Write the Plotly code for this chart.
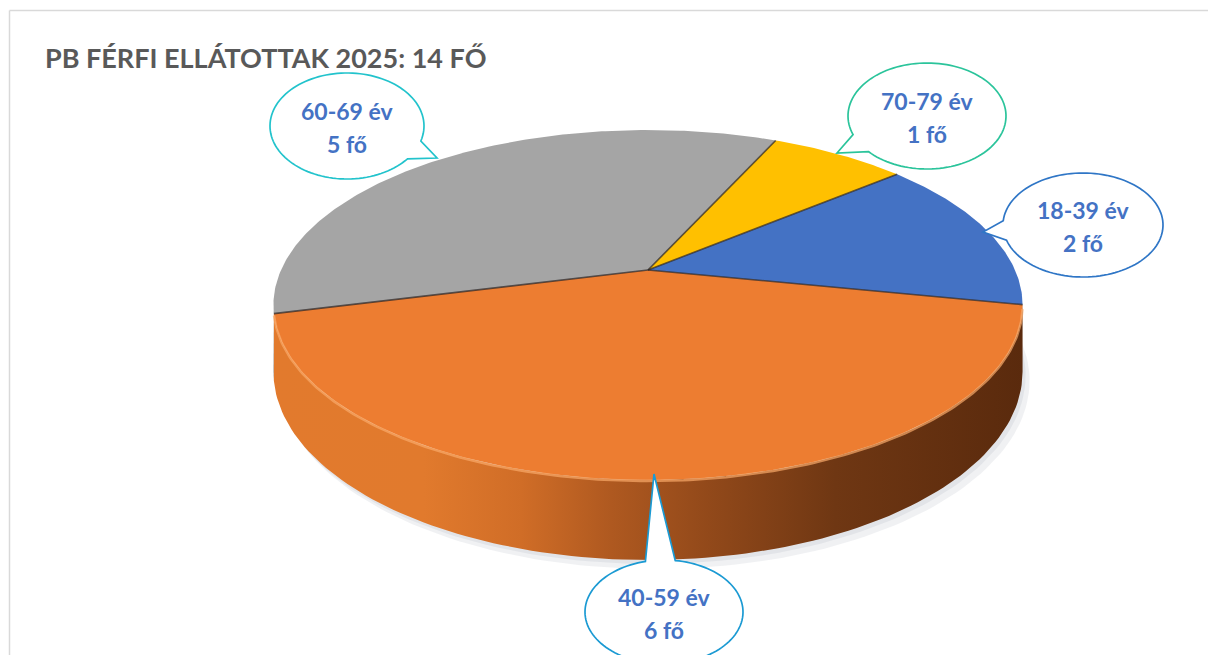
import numpy as np
import plotly.graph_objects as go

# ---------------- data ----------------
categories = ["18-39 év", "40-59 év", "60-69 év", "70-79 év"]
values = [2, 6, 5, 1]
unit = "fő"
title_text = "PB FÉRFI ELLÁTOTTAK 2025: 14 FŐ"
top_colors = ["#4472C4", "#ED7D31", "#A5A5A5", "#FFC000"]
side_colors = ["#2F5597", "#C55A11", "#7B7B7B", "#BF9000"]

# ---------------- geometry (3D-looking pie) ----------------
W, H = 1208, 655
CX, CY = 648, 270          # projected pie centre
A, B = 367, 168            # radii of the tilted disc
K = 0.2                    # perspective factor
D = 64                     # thickness
START = 40.0               # first slice starts here (deg, math convention), clockwise


def proj(phi_deg, h=0.0):
    t = np.radians(phi_deg)
    u, w = np.cos(t), np.sin(t)
    s = 1.0 / (1.0 + K * w)
    return CX + A * u * s, CY - B * w * s + D * h * s


total = float(sum(values))
bounds = START - 360.0 * np.cumsum([0] + values) / total
vis_lo = 180 + np.degrees(np.arcsin(K))
vis_hi = 360 - np.degrees(np.arcsin(K))

fig = go.Figure()

# soft shadow
ph = np.linspace(0, 360, 240)
sx, sy = proj(ph, 1.0)
fig.add_trace(go.Scatter(x=sx + 7, y=sy + 9, mode="lines", fill="toself",
                         fillcolor="rgba(110,120,140,0.10)", line=dict(width=0),
                         hoverinfo="skip", showlegend=False))
fig.add_trace(go.Scatter(x=sx + 3, y=sy + 4, mode="lines", fill="toself",
                         fillcolor="rgba(110,120,140,0.10)", line=dict(width=0),
                         hoverinfo="skip", showlegend=False))

# sides
for i in range(len(values)):
    a_hi, a_lo = bounds[i], bounds[i + 1]
    for shift in (-720, -360, 0, 360, 720):
        lo = max(a_lo + shift, vis_lo)
        hi = min(a_hi + shift, vis_hi)
        if lo < hi:
            pp = np.linspace(lo, hi, 120)
            tx, ty = proj(pp, 0.0)
            bx, by = proj(pp[::-1], 1.0)
            xs = np.concatenate([tx, bx])
            ys = np.concatenate([ty, by])
            kw = dict(fillcolor=side_colors[i])
            if i == 1:
                kw = dict(fillgradient=dict(type="horizontal", colorscale=[
                    [0.0, "#E27A2D"], [0.2, "#E17A2D"], [0.33, "#D06D27"],
                    [0.45, "#AF5920"], [0.58, "#92491A"], [0.75, "#6F3713"],
                    [1.0, "#5A2A0D"]]))
            fig.add_trace(go.Scatter(x=xs, y=ys, mode="lines", fill="toself",
                                     line=dict(width=0), hoverinfo="skip",
                                     showlegend=False, **kw))

# top faces
for i in range(len(values)):
    n = max(int(abs(bounds[i] - bounds[i + 1]) * 1.5), 8)
    pp = np.linspace(bounds[i], bounds[i + 1], n)
    ax, ay = proj(pp, 0.0)
    xs = np.concatenate([[CX], ax, [CX]])
    ys = np.concatenate([[CY], ay, [CY]])
    fig.add_trace(go.Scatter(x=xs, y=ys, mode="lines", fill="toself",
                             fillcolor=top_colors[i], line=dict(width=0),
                             name=categories[i], hoverinfo="name",
                             showlegend=False))

# rim highlight along the front edge
pp = np.linspace(vis_lo + 3, vis_hi - 1, 200)
rx_, ry_ = proj(pp, 0.0)
fig.add_trace(go.Scatter(x=rx_, y=ry_ + 1, mode="lines",
                         line=dict(color="rgba(250,170,105,0.7)", width=2.5),
                         hoverinfo="skip", showlegend=False))

# slice borders
for b in bounds[:-1]:
    ex, ey = proj(b, 0.0)
    fig.add_trace(go.Scatter(x=[CX, ex], y=[CY, ey], mode="lines",
                             line=dict(color="rgba(45,40,40,0.75)", width=1.6),
                             hoverinfo="skip", showlegend=False))

# ---------------- callouts ----------------
callouts = {
    "60-69 év": dict(c=(347, 126), r=(77, 53), tip=(437, 158), col="#22C3CC"),
    "70-79 év": dict(c=(927, 116), r=(79, 53), tip=(837, 153), col="#2BC49B"),
    "18-39 év": dict(c=(1083, 225), r=(80, 52), tip=(983, 232), col="#2F76C6"),
    "40-59 év": dict(c=(664, 612), r=(79, 52), tip=(654, 474), col="#1B9AD3"),
}


def callout_path(c, r, tip, half=0.19):
    cx, cy = c
    rx, ry = r
    tx, ty = tip
    a = np.arctan2((ty - cy) / ry, (tx - cx) / rx)
    ts = np.linspace(a + half, a + 2 * np.pi - half, 120)
    pts = [f"{cx + rx * np.cos(t):.2f},{cy + ry * np.sin(t):.2f}" for t in ts]
    return "M" + " L".join(pts) + f" L{tx},{ty} Z"


shapes = []
annotations = []
for cat, v in zip(categories, values):
    co = callouts[cat]
    shapes.append(dict(type="path", xref="x", yref="y",
                       path=callout_path(co["c"], co["r"], co["tip"]),
                       fillcolor="white", line=dict(color=co["col"], width=1.7),
                       layer="above"))
    annotations.append(dict(x=co["c"][0], y=co["c"][1] - 15, xref="x", yref="y",
                            text=f"<b>{cat}</b>", showarrow=False,
                            font=dict(family="Lato", size=23, color="#4472C4")))
    annotations.append(dict(x=co["c"][0], y=co["c"][1] + 18, xref="x", yref="y",
                            text=f"<b>{v} {unit}</b>", showarrow=False,
                            font=dict(family="Lato", size=23, color="#4472C4")))

# chart border (top and left edges visible)
shapes.insert(0, dict(type="line", xref="x", yref="y", x0=9.5, y0=10.5, x1=W, y1=10.5,
                      line=dict(color="#D9D9D9", width=1.5), layer="below"))
shapes.insert(0, dict(type="line", xref="x", yref="y", x0=9.5, y0=10.5, x1=9.5, y1=H,
                      line=dict(color="#D9D9D9", width=1.5), layer="below"))

annotations.append(dict(x=43, y=57, xref="x", yref="y", xanchor="left", yanchor="middle",
                        text=f"<b>{title_text}</b>", showarrow=False,
                        font=dict(family="Lato", size=27, color="#595959")))

fig.update_layout(
    width=W, height=H, autosize=False,
    margin=dict(l=0, r=0, t=0, b=0),
    paper_bgcolor="white", plot_bgcolor="white",
    xaxis=dict(range=[0, W], visible=False, fixedrange=True),
    yaxis=dict(range=[H, 0], visible=False, fixedrange=True),
    shapes=shapes, annotations=annotations,
)

fig.write_html("out.html",
               config={"displayModeBar": False},
               post_script="document.body.style.margin='0';document.body.style.overflow='hidden';")
